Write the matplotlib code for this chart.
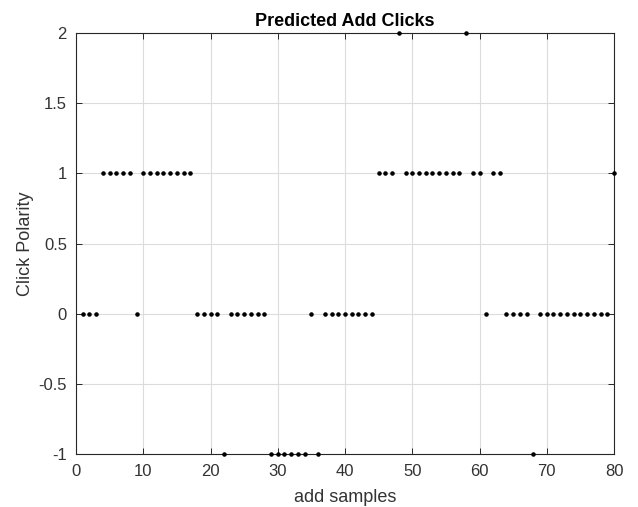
import matplotlib
matplotlib.use("Agg")
import matplotlib.pyplot as plt
import numpy as np

plt.rcParams['font.family'] = ['Liberation Sans', 'DejaVu Sans']

samples = list(range(1, 81))
polarity = ([0, 0, 0] + [1] * 5 + [0] + [1] * 8 + [0] * 4 + [-1] + [0] * 6 +
            [-1] * 6 + [0] + [-1] + [0] * 8 + [1] * 3 + [2] + [1] * 9 + [2] +
            [1] * 2 + [0] + [1] * 2 + [0] * 4 + [-1] + [0] * 11 + [1])
xticks = [0, 10, 20, 30, 40, 50, 60, 70, 80]
yticks = [-1, -0.5, 0, 0.5, 1, 1.5, 2]
ytick_labels = ['-1', '-0.5', '0', '0.5', '1', '1.5', '2']

W, H = 638, 507
L, R, T, B = 76, 614, 33, 454
fig = plt.figure(figsize=(W / 100, H / 100), dpi=100)
ax = fig.add_axes([L / W, 1 - B / H, (R - L) / W, (B - T) / H])

ax.plot(samples, polarity, '.', color='black', markersize=4.5, clip_on=False, zorder=3)

ax.set_xlim(0, 80)
ax.set_ylim(-1, 2)
ax.set_xticks(xticks)
ax.set_yticks(yticks)
ax.set_yticklabels(ytick_labels)
ax.grid(True, color='#dcdcdc', linewidth=0.8)
ax.set_axisbelow(True)

axis_color = '#262626'
label_color = '#333333'
for s in ax.spines.values():
    s.set_color(axis_color)
    s.set_linewidth(0.8)
ax.tick_params(direction='in', length=4, width=0.7, colors=axis_color,
               top=True, right=True, labelsize=12, labelcolor=label_color)
ax.tick_params(axis='x', pad=7)
ax.tick_params(axis='y', pad=6.5)

ax.set_xlabel('add samples', fontsize=13, color=label_color, va='center')
ax.xaxis.set_label_coords(0.5, (B - 497) / (B - T))
ax.set_ylabel('Click Polarity', fontsize=13, color=label_color, va='center')
ax.yaxis.set_label_coords((26 - L) / (R - L), 0.5)
ax.set_title('Predicted Add Clicks', fontsize=13, fontweight='bold', color='black', pad=5)

fig.savefig('out.png', dpi=100, facecolor='white')
